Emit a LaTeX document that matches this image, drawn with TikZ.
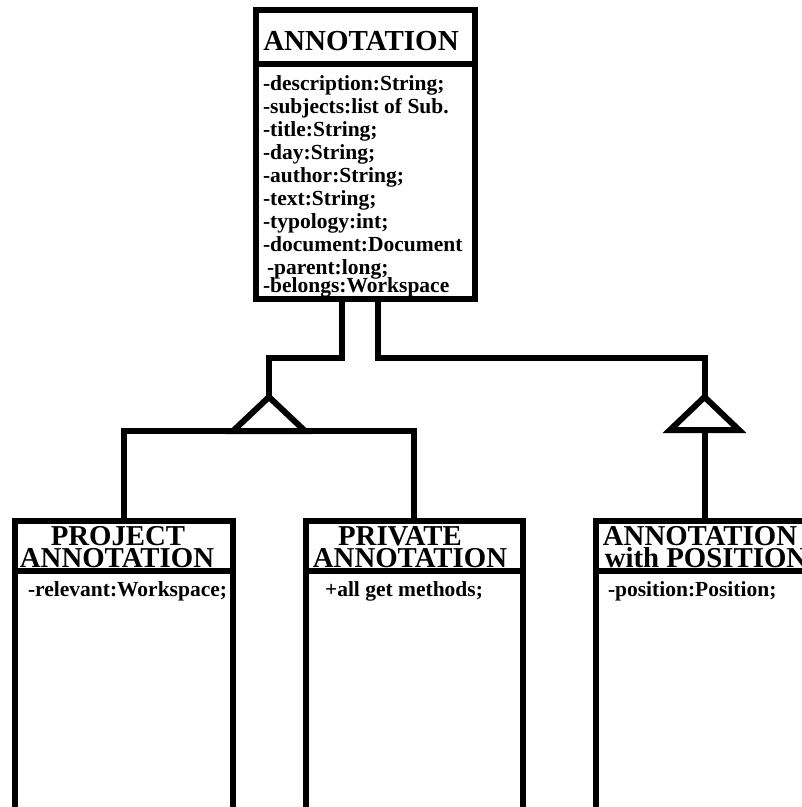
\documentclass[tikz,border=0pt]{standalone}
\usepackage{fontspec}
\setmainfont{Liberation Serif}
\usetikzlibrary{calc}
\begin{document}
\begin{tikzpicture}[x=1pt,y=-1pt,
  every node/.style={inner sep=0pt, outer sep=0pt},
  umlbox/.style={draw, rectangle, line width=6pt},
  link/.style={line width=6pt},
  classname/.style={font=\fontsize{29}{21}\selectfont\bfseries},
  subname/.style={font=\fontsize{28.8}{21}\selectfont\bfseries, anchor=base,
    text height=19pt, text depth=0pt},
  attrs/.style={font=\fontsize{21.5}{23}\selectfont\bfseries, align=left},
  member/.style={font=\fontsize{21.5}{23}\selectfont\bfseries, anchor=base west}
]
\useasboundingbox (0,0) rectangle (802,807);
\clip (0,0) rectangle (802,807);

% ---- superclass ----
\node[umlbox, minimum width=219pt, minimum height=289pt] (ann) at (365,154.5) {};
\coordinate (annsep) at (0,63.5);
\draw[link] (ann.west |- annsep) -- (ann.east |- annsep);
\node[classname, anchor=base] (anntitle) at (361,50) {ANNOTATION};
\node[attrs, anchor=north west] (annattr) at (263,76) {%
-description:String;\\
-subjects:list of Sub.\\
-title:String;\\
-day:String;\\
-author:String;\\
-text:String;\\
-typology:int;\\
-document:Document\\
\hspace{4pt}-parent:long;\\[-5pt]
-belongs:Workspace};

% ---- subclasses ----
\node[umlbox, minimum width=218.5pt, minimum height=319pt] (proj) at (123.75,680.5) {};
\node[umlbox, minimum width=217pt, minimum height=319pt] (priv) at (414,680.5) {};
\node[umlbox, minimum width=218pt, minimum height=319pt] (pos) at (704.5,680.5) {};
\coordinate (subsep) at (0,571);
\foreach \b in {proj,priv,pos}
  \draw[link] (\b.west |- subsep) -- (\b.east |- subsep);

\node[subname] (projtitleA) at (118,545.5) {PROJECT};
\node[subname] (projtitleB) at (117,567) {ANNOTATION};
\node[subname] (privtitleA) at (400,545.5) {PRIVATE};
\node[subname] (privtitleB) at (410,567) {ANNOTATION};
\node[subname] (postitleA) at (700,545.5) {ANNOTATION};
\node[subname] (postitleB) at (706,567) {with POSITION};

\node[member] (projattr) at (28,596) {-relevant:Workspace;};
\node[member] (privattr) at (325,596) {+all get methods;};
\node[member] (posattr) at (608,596) {-position:Position;};

% ---- generalization connectors ----
\coordinate (j1) at (269,358);
\coordinate (apex1) at (269,397);
\coordinate (base1) at (269,431);
\coordinate (j2) at (704.5,358);
\coordinate (apex2) at (704.5,397);
\coordinate (base2) at (704.5,430);

\draw[link] ([xshift=-23.5pt]ann.south) |- (j1) -- (apex1);
\draw[link] ([xshift=13pt]ann.south) |- (j2) -- (apex2);

\draw[link] (apex1) -- ($(base1)+(-36,0)$) -- ($(base1)+(36,0)$) -- cycle;
\draw[link] (apex2) -- ($(base2)+(-34.5,0)$) -- ($(base2)+(34.5,0)$) -- cycle;

\draw[link] (proj.north) |- (base1) -| (priv.north);
\draw[link] (base2) -- (pos.north);
\end{tikzpicture}
\end{document}
